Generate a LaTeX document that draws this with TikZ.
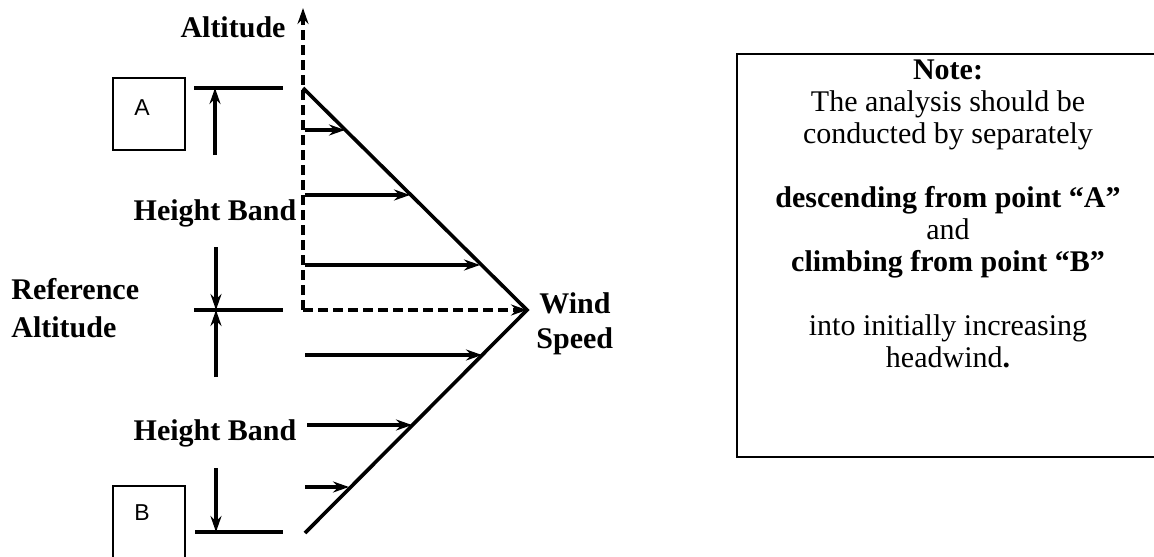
\documentclass[tikz,border=0pt]{standalone}
\usepackage{fontspec}
\setmainfont{Liberation Serif}
\newfontfamily\boxfont{Liberation Sans}
\usetikzlibrary{arrows.meta}
\begin{document}
\begin{tikzpicture}[x=0.5pt,y=-0.5pt,
  thickline/.style={line width=1.8pt},
  dashline/.style={line width=1.6pt,dash pattern=on 5pt off 2.5pt},
  arr/.style={-{Stealth[length=8pt,width=5.5pt]}},
  ptbox/.style={draw,line width=1pt},
  boxlbl/.style={font=\boxfont\fontsize{11.5}{12}\selectfont,inner sep=0pt},
  lbl/.style={font=\fontsize{15}{16}\selectfont\bfseries,inner sep=0pt},
  note/.style={font=\fontsize{15}{16}\selectfont,align=center,inner sep=0pt}]
\useasboundingbox (0,0) rectangle (1154,556);
% coordinates
\coordinate (origin) at (303,310);
\coordinate (axtop) at (303,8);
\coordinate (apex) at (527,310);
\coordinate (dtop) at (303,88);
\coordinate (dbot) at (305,533);
% axes
\draw[dashline,arr] (origin) -- (axtop);
\draw[dashline,arr] (origin) -- (apex);
% profile
\draw[thickline] (dtop) -- (apex) -- (dbot);
% wind arrows
\foreach \y/\xs/\xe [count=\i] in {130/305/345,195/305/410,265/305/480,355/305/482,425/307/412,487/305/349}{
  \coordinate (ws\i) at (\xs,\y);
  \coordinate (we\i) at (\xe,\y);
  \draw[thickline,arr] (ws\i) -- (we\i);
}
% dimension lines
\coordinate (hA1) at (194,88);  \coordinate (hA2) at (283,88);
\coordinate (hR1) at (194,310); \coordinate (hR2) at (283,310);
\coordinate (hB1) at (195,532); \coordinate (hB2) at (283,532);
\draw[thickline] (hA1) -- (hA2);
\draw[thickline] (hR1) -- (hR2);
\draw[thickline] (hB1) -- (hB2);
\coordinate (vA) at (215,155);
\coordinate (vA2) at (215,88);
\coordinate (vR1) at (216,247);
\coordinate (vR2) at (216,377);
\coordinate (vRm) at (216,310);
\coordinate (vB) at (216,468);
\coordinate (vB2) at (216,532);
\draw[thickline,arr] (vA) -- (vA2);
\draw[thickline,arr] (vR1) -- (vRm);
\draw[thickline,arr] (vR2) -- (vRm);
\draw[thickline,arr] (vB) -- (vB2);
% boxes
\draw[ptbox] (113,78) rectangle (185,150);
\node[boxlbl] (A) at (142,108) {A};
\draw[ptbox] (113,486) rectangle (185,562);
\node[boxlbl] (B) at (142,513) {B};
% labels
\node[lbl] (alt) at (233,27) {Altitude};
\node[lbl] (hb1) at (215,213) {Height Band};
\node[lbl] (hb2) at (215,433) {Height Band};
\node[lbl,anchor=west] (ref1) at (11,289) {Reference};
\node[lbl,anchor=west] (ref2) at (11,327) {Altitude};
\node[lbl,anchor=west] (wind) at (539,303) {Wind};
\node[lbl,anchor=west] (speed) at (536,341) {Speed};
% note box
\draw[line width=1pt] (1160,54) -- (737,54) -- (737,457) -- (1160,457);
\node[note] (notetext) at (948,214) {\textbf{Note:}\\
The analysis should be\\
conducted by separately\\[16pt]
\textbf{descending from point ``A''}\\
and\\
\textbf{climbing from point ``B''}\\[16pt]
into initially increasing\\
headwind\textbf{.}};
\end{tikzpicture}
\end{document}
